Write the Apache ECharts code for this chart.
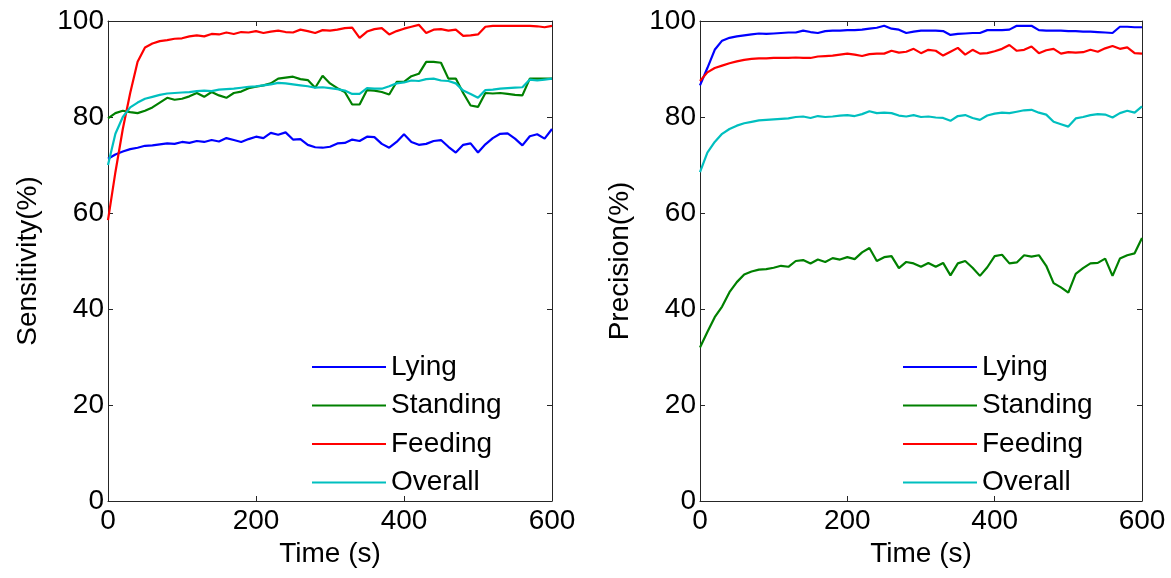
<!DOCTYPE html>
<html>
<head>
<meta charset="utf-8">
<script src="https://cdn.jsdelivr.net/npm/echarts@6/dist/echarts.min.js"></script>
<style>
html,body{margin:0;padding:0;background:#fff;}
#chart{width:1171px;height:578px;}
</style>
</head>
<body>
<div id="chart"></div>
<script>
// ---------- DATA ----------
const time = [0,10,20,30,40,50,60,70,80,90,100,110,120,130,140,150,160,170,180,190,200,210,220,230,240,250,260,270,280,290,300,310,320,330,340,350,360,370,380,390,400,410,420,430,440,450,460,470,480,490,500,510,520,530,540,550,560,570,580,590,600];
const seriesNames = ['Lying','Standing','Feeding','Overall'];
const xTicks = [0,200,400,600];
const yTicks = [0,20,40,60,80,100];

// Sensitivity (left panel)
const sensLying = [71.3,72.2,72.8,73.3,73.6,74.0,74.1,74.3,74.5,74.4,74.8,74.6,75.0,74.8,75.2,74.9,75.6,75.2,74.8,75.4,75.9,75.6,76.7,76.3,76.8,75.3,75.4,74.2,73.7,73.6,73.8,74.5,74.6,75.3,75.0,75.9,75.8,74.4,73.6,74.8,76.4,74.8,74.2,74.4,75.0,75.2,73.8,72.6,74.2,74.5,72.6,74.3,75.6,76.5,76.6,75.5,74.1,76.0,76.4,75.5,77.5];
const sensStanding = [79.7,80.8,81.3,81.0,80.8,81.3,82.0,83.0,84.0,83.6,83.8,84.3,85.0,84.2,85.2,84.5,84.0,85.0,85.3,86.0,86.3,86.6,87.0,88.0,88.2,88.4,87.9,87.7,86.1,88.6,87.0,86.0,85.2,82.6,82.6,85.6,85.5,85.2,84.7,87.3,87.3,88.5,89.0,91.5,91.5,91.3,88.0,88.0,85.0,82.4,82.1,85.0,84.9,85.0,84.8,84.6,84.5,88.0,88.0,88.0,88.0];
const sensFeeding = [58.5,68.5,77.5,85.0,91.5,94.5,95.3,95.8,96.0,96.3,96.4,96.8,97.0,96.8,97.3,97.2,97.6,97.3,97.7,97.6,97.9,97.5,97.8,98.0,97.7,97.6,98.2,97.9,97.5,98.1,98.0,98.2,98.5,98.6,96.5,97.8,98.3,98.5,97.2,97.9,98.4,98.8,99.2,97.5,98.2,98.3,98.0,98.2,96.9,97.0,97.2,98.8,99.0,99.0,99.0,99.0,99.0,99.0,98.9,98.7,99.0];
const sensOverall = [70.0,76.5,80.0,82.0,83.0,83.8,84.2,84.6,84.9,85.0,85.1,85.2,85.4,85.5,85.4,85.7,85.8,85.9,86.1,86.3,86.4,86.6,86.8,87.1,87.0,86.8,86.6,86.4,86.1,86.2,86.0,85.8,85.5,84.8,84.8,86.0,85.9,85.9,86.4,87.0,87.2,87.6,87.5,87.9,88.0,87.6,87.5,87.0,85.5,84.8,84.0,85.6,85.7,85.9,86.0,86.1,86.2,87.8,87.6,87.8,88.0];

// Precision (right panel)
const precLying = [86.6,90.2,94.0,95.9,96.5,96.8,97.0,97.2,97.4,97.3,97.4,97.5,97.6,97.6,98.0,97.7,97.5,97.9,98.0,98.0,98.1,98.1,98.2,98.4,98.6,99.0,98.4,98.2,97.5,97.8,98.0,98.0,98.0,97.9,97.1,97.3,97.4,97.5,97.5,98.1,98.1,98.1,98.2,99.0,99.0,99.0,98.1,98.0,98.0,98.0,97.9,97.9,97.8,97.8,97.7,97.6,97.5,98.8,98.8,98.7,98.7];
const precStanding = [32.0,35.2,38.3,40.5,43.5,45.6,47.2,47.8,48.2,48.3,48.6,49.0,48.8,50.0,50.2,49.5,50.3,49.8,50.6,50.3,50.8,50.4,51.8,52.7,50.0,50.8,51.0,48.5,49.8,49.5,48.8,49.6,48.8,49.6,47.0,49.5,50.0,48.6,46.9,48.7,51.0,51.3,49.5,49.7,51.2,50.9,51.2,49.0,45.4,44.5,43.4,47.3,48.5,49.5,49.6,50.5,46.9,50.5,51.2,51.6,54.8];
const precFeeding = [87.5,89.3,90.2,90.7,91.2,91.6,91.9,92.1,92.2,92.2,92.3,92.3,92.3,92.4,92.3,92.3,92.6,92.7,92.8,93.0,93.2,93.0,92.7,93.1,93.2,93.2,93.8,93.4,93.6,94.2,93.3,94.0,93.8,92.8,93.6,94.4,93.0,94.0,93.2,93.3,93.7,94.2,95.0,93.8,94.0,94.7,93.3,93.9,94.2,93.2,93.5,93.4,93.5,94.0,93.6,94.3,94.8,94.2,94.5,93.3,93.2];
const precOverall = [68.5,72.6,74.8,76.5,77.5,78.2,78.7,79.0,79.3,79.4,79.5,79.6,79.7,80.0,80.1,79.8,80.2,80.0,80.1,80.3,80.4,80.2,80.6,81.2,80.8,80.9,80.8,80.3,80.1,80.4,80.0,80.1,79.9,79.8,79.2,80.2,80.4,79.8,79.4,80.3,80.7,80.9,80.8,81.1,81.4,81.5,80.9,80.5,79.0,78.5,78.0,79.7,80.0,80.4,80.6,80.5,79.9,80.8,81.3,80.9,82.2];

// ---------- CHART ----------
const FONT = '"Liberation Sans", Arial, Helvetica, sans-serif';
const AX = '#262626';
const colors = ['#0000ff','#008000','#ff0000','#00bfbf'];
const pair = arr => time.map((t,i)=>[t, arr[i]]);

function xAx(grid, pos, withLabels){
  return {
    gridIndex: grid, type:'value', min:0, max:600, interval:200, position:pos,
    axisLine:{show:true, onZero:false, lineStyle:{color:AX, width:1}},
    axisTick:{show:true, inside:true, length:5, lineStyle:{color:AX}},
    axisLabel:{show:withLabels, fontSize:28, color:'#000', margin:6, fontFamily:FONT,
      formatter: v => xTicks.indexOf(v) >= 0 ? String(v) : ''},
    splitLine:{show:false},
    name: withLabels ? 'Time (s)' : '', nameLocation:'middle', nameGap:33,
    nameTextStyle:{fontSize:28, color:'#000', fontFamily:FONT}
  };
}
function yAx(grid, pos, withLabels, name){
  return {
    gridIndex: grid, type:'value', min:0, max:100, interval:20, position:pos,
    axisLine:{show:true, onZero:false, lineStyle:{color:AX, width:1}},
    axisTick:{show:true, inside:true, length:5, lineStyle:{color:AX}},
    axisLabel:{show:withLabels, fontSize:28, color:'#000', margin:4, fontFamily:FONT,
      formatter: v => yTicks.indexOf(v) >= 0 ? String(v) : ''},
    splitLine:{show:false},
    name: withLabels ? name : '', nameLocation:'middle', nameGap:66, nameRotate:90,
    nameTextStyle:{fontSize:28, color:'#000', fontFamily:FONT}
  };
}
function line(name, data, xi, yi, color){
  return {name, type:'line', xAxisIndex:xi, yAxisIndex:yi, data:pair(data),
    showSymbol:false, symbol:'none', smooth:false, z: 3,
    lineStyle:{color, width:2.2}, itemStyle:{color}};
}
function legend(left){
  return {
    data: seriesNames, orient:'vertical', left:left, top:348,
    icon:'rect', itemWidth:74, itemHeight:2, itemGap:10.5,
    textStyle:{fontSize:28, color:'#000', fontFamily:FONT, lineHeight:28},
    selectedMode:false
  };
}

const option = {
  animation:false,
  backgroundColor:'#fff',
  grid:[
    {left:108, right:619, top:21, bottom:77},
    {left:700, right:29, top:21, bottom:77}
  ],
  xAxis:[ xAx(0,'bottom',true), xAx(0,'top',false), xAx(1,'bottom',true), xAx(1,'top',false) ],
  yAxis:[ yAx(0,'left',true,'Sensitivity(%)'), yAx(0,'right',false,''), yAx(1,'left',true,'Precision(%)'), yAx(1,'right',false,'') ],
  legend:[ legend(307), legend(898) ],
  series:[
    line('Lying', sensLying, 0, 0, colors[0]),
    line('Standing', sensStanding, 0, 0, colors[1]),
    line('Feeding', sensFeeding, 0, 0, colors[2]),
    line('Overall', sensOverall, 0, 0, colors[3]),
    line('Lying', precLying, 2, 2, colors[0]),
    line('Standing', precStanding, 2, 2, colors[1]),
    line('Feeding', precFeeding, 2, 2, colors[2]),
    line('Overall', precOverall, 2, 2, colors[3])
  ]
};
const chart = echarts.init(document.getElementById('chart'), null, {renderer:'canvas'});
chart.setOption(option);
</script>
</body>
</html>
